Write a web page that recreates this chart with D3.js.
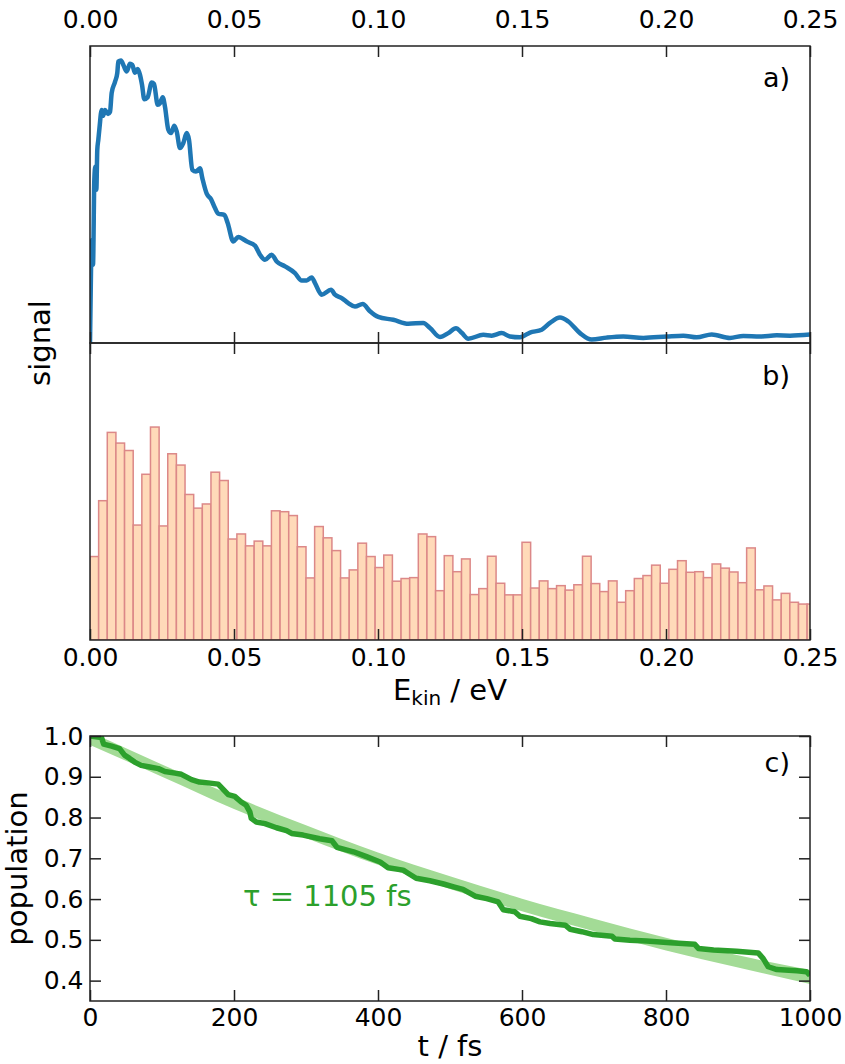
<!DOCTYPE html>
<html>
<head>
<meta charset="utf-8">
<script src="https://cdn.jsdelivr.net/npm/d3@7"></script>
<style>
    body { margin: 0; background: #fff; }
    svg { display: block; font-family: "DejaVu Sans", sans-serif; }
</style>
</head>
<body>
<div id="chart"></div>
<script>
// a) simulated spectrum
const energy = [0, 0.00035, 0.0008, 0.00104, 0.0015, 0.00184, 0.0022, 0.00253, 0.00288, 0.0033,
    0.00406, 0.00451, 0.0052, 0.00625, 0.00694, 0.00753, 0.00868, 0.00948, 0.00983, 0.01076,
    0.0117, 0.01274, 0.01389, 0.01469, 0.01563, 0.01656, 0.01736, 0.01806, 0.01885, 0.02003,
    0.02142, 0.02222, 0.02351, 0.02431, 0.02524, 0.02604, 0.02719, 0.02813, 0.02927, 0.0301,
    0.03125, 0.0324, 0.03358, 0.03438, 0.03552, 0.0368, 0.03819, 0.039, 0.04052, 0.04201,
    0.0434, 0.04455, 0.04663, 0.0478, 0.04976, 0.05149, 0.05323, 0.05441, 0.05729, 0.05903,
    0.06076, 0.06309, 0.06483, 0.06771, 0.07118, 0.07351, 0.07524, 0.07698, 0.07813, 0.08045,
    0.08368, 0.08507, 0.0874, 0.08969, 0.09201, 0.09469, 0.09722, 0.1001, 0.10531, 0.11052,
    0.11573, 0.11806, 0.12153, 0.12441, 0.12708, 0.12906, 0.13135, 0.13656, 0.13948, 0.14295,
    0.14583, 0.14931, 0.15278, 0.15684, 0.15972, 0.16319, 0.16608, 0.17014, 0.1742, 0.17941,
    0.18517, 0.19212, 0.20024, 0.20601, 0.21066, 0.21587, 0.22222, 0.22684, 0.23264, 0.23844,
    0.24306, 0.25];
const signal = [0, 0.259, 0.365, 0.277, 0.577, 0.623, 0.542, 0.683, 0.718, 0.761,
    0.824, 0.803, 0.824, 0.810, 0.817, 0.884, 0.923, 0.955, 0.995, 0.999,
    0.980, 0.960, 0.987, 0.983, 0.955, 0.969, 0.948, 0.913, 0.862, 0.869,
    0.921, 0.916, 0.842, 0.848, 0.869, 0.835, 0.754, 0.742, 0.768, 0.748,
    0.689, 0.707, 0.742, 0.718, 0.612, 0.606, 0.618, 0.583, 0.528, 0.509,
    0.477, 0.457, 0.453, 0.424, 0.359, 0.375, 0.367, 0.359, 0.344, 0.312,
    0.294, 0.312, 0.288, 0.271, 0.247, 0.221, 0.221, 0.232, 0.212, 0.171,
    0.188, 0.171, 0.159, 0.141, 0.129, 0.138, 0.112, 0.092, 0.082, 0.068,
    0.071, 0.053, 0.021, 0.035, 0.052, 0.036, 0.015, 0.029, 0.026, 0.035,
    0.023, 0.020, 0.037, 0.047, 0.071, 0.090, 0.076, 0.035, 0.012, 0.019,
    0.023, 0.018, 0.023, 0.026, 0.020, 0.030, 0.018, 0.025, 0.023, 0.027,
    0.026, 0.030];

// b) histogram of kinetic energies, bins of 0.003 eV
const binWidth = 0.003;
const counts = [28.1, 46.9, 69.9, 66.3, 63.8, 38.7, 55.8, 71.7, 38.4, 62.7,
    58.9, 49.0, 44.4, 45.8, 56.5, 53.7, 34.0, 35.7, 31.7, 33.3,
    31.7, 43.5, 43.2, 41.9, 31.4, 20.9, 38.2, 34.4, 30.1, 20.9,
    23.6, 32.6, 28.1, 24.4, 28.6, 19.8, 20.7, 21.0, 35.7, 34.8,
    16.6, 28.4, 23.0, 27.3, 15.3, 17.3, 28.2, 19.1, 15.2, 15.2,
    32.9, 17.5, 19.9, 17.3, 18.3, 16.8, 18.6, 28.2, 19.0, 16.3,
    19.9, 12.7, 16.6, 20.7, 21.7, 25.2, 19.1, 23.8, 26.7, 22.8,
    23.0, 21.0, 25.6, 24.2, 22.9, 19.3, 31.0, 16.9, 18.2, 13.5,
    15.7, 12.7, 12.1, 12.1];

// c) population and fitted decay band
const popTime = [0, 16, 19, 30, 41, 48, 55, 62, 71, 83, 95, 104, 118, 127, 141, 152, 164, 178, 185, 192,
    201, 210, 217, 222, 224, 231, 243, 259, 273, 280, 296, 319, 336, 343, 366, 384, 403, 414, 435, 444,
    453, 472, 491, 505, 518, 535, 551, 567, 574, 590, 597, 613, 625, 639, 660, 667, 683, 699, 725, 729,
    750, 773, 806, 840, 845, 866, 898, 928, 935, 942, 954, 982, 995, 1000];
const popValue = [1.0, 0.996, 0.980, 0.975, 0.969, 0.953, 0.945, 0.936, 0.928, 0.924,
    0.920, 0.913, 0.909, 0.906, 0.893, 0.887, 0.885, 0.882, 0.869, 0.856,
    0.852, 0.838, 0.830, 0.814, 0.798, 0.789, 0.785, 0.775, 0.768, 0.761,
    0.757, 0.748, 0.743, 0.727, 0.716, 0.704, 0.691, 0.677, 0.671, 0.661,
    0.651, 0.645, 0.637, 0.630, 0.624, 0.607, 0.601, 0.593, 0.574, 0.569,
    0.558, 0.552, 0.544, 0.540, 0.536, 0.526, 0.520, 0.513, 0.509, 0.502,
    0.499, 0.497, 0.493, 0.489, 0.479, 0.475, 0.472, 0.468, 0.454, 0.434,
    0.427, 0.424, 0.422, 0.413];
const fitTime = [0, 100, 200, 300, 400, 500, 600, 700, 800, 900, 1000];
const fitLow = [0.978, 0.900, 0.821, 0.750, 0.684, 0.625, 0.570, 0.521, 0.474, 0.432, 0.392];
const fitHigh = [1.010, 0.930, 0.852, 0.781, 0.714, 0.656, 0.601, 0.552, 0.505, 0.462, 0.426];

const energyTicks = [0, 0.05, 0.10, 0.15, 0.20, 0.25];
const timeTicks = [0, 200, 400, 600, 800, 1000];
const popTicks = [0.4, 0.5, 0.6, 0.7, 0.8, 0.9, 1.0];

const width = 845;
const height = 1064;
const left = 90, right = 810;
const topA = 46, midAB = 343, bottomB = 640;
const topC = 736, bottomC = 1001;
const tickLen = 11;
const ink = "#222";

const svg = d3.select("#chart")
    .append("svg")
    .attr("width", width)
    .attr("height", height);

const x = d3.scaleLinear().domain([0, 0.25]).range([left, right]);
const ySignal = d3.scaleLinear().domain([0, 1.05]).range([midAB, topA]);
const yCount = d3.scaleLinear().domain([0, 100]).range([bottomB, midAB]);
const xTime = d3.scaleLinear().domain([0, 1000]).range([left, right]);
const yPop = d3.scaleLinear().domain([0.35, 1.0]).range([bottomC, topC]);

const defs = svg.append("defs");
function addClip(id, y0, y1) {
    defs.append("clipPath").attr("id", id)
        .append("rect")
        .attr("x", left).attr("y", y0)
        .attr("width", right - left).attr("height", y1 - y0);
}
addClip("clip-a", topA, midAB);
addClip("clip-b", midAB, bottomB);
addClip("clip-c", topC, bottomC);

// panel a
svg.append("path")
    .datum(d3.zip(energy, signal))
    .attr("clip-path", "url(#clip-a)")
    .attr("fill", "none")
    .attr("stroke", "#1f77b4")
    .attr("stroke-width", 4.5)
    .attr("stroke-linejoin", "round")
    .attr("d", d3.line().curve(d3.curveMonotoneX).x(d => x(d[0])).y(d => ySignal(d[1])));

// panel b
svg.append("g")
    .attr("clip-path", "url(#clip-b)")
    .selectAll("rect")
    .data(counts)
    .join("rect")
    .attr("x", (d, i) => x(i * binWidth))
    .attr("width", x(binWidth) - x(0))
    .attr("y", d => yCount(d))
    .attr("height", d => yCount(0) - yCount(d))
    .attr("fill", "#ffdab9")
    .attr("stroke", "#dc8888")
    .attr("stroke-width", 1.5);

// panel c
const clipC = svg.append("g").attr("clip-path", "url(#clip-c)");
clipC.append("path")
    .datum(fitTime.map((t, i) => [t, fitLow[i], fitHigh[i]]))
    .attr("fill", "#a3db96")
    .attr("d", d3.area()
        .curve(d3.curveMonotoneX)
        .x(d => xTime(d[0]))
        .y0(d => yPop(d[1]))
        .y1(d => yPop(d[2])));
clipC.append("path")
    .datum(d3.zip(popTime, popValue))
    .attr("fill", "none")
    .attr("stroke", "#2ca02c")
    .attr("stroke-width", 5.5)
    .attr("stroke-linejoin", "round")
    .attr("d", d3.line().x(d => xTime(d[0])).y(d => yPop(d[1])));

function drawAxis(gen, tx, ty) {
    const g = svg.append("g")
        .attr("transform", `translate(${tx},${ty})`)
        .call(gen.tickSizeInner(-tickLen).tickSizeOuter(0));
    g.attr("font-family", null).attr("font-size", 25);
    g.select(".domain").remove();
    g.selectAll(".tick line").attr("stroke", ink).attr("stroke-width", 1.5);
    g.selectAll(".tick text").attr("fill", "#000");
    return g;
}

const fmtE = d3.format(".2f");
drawAxis(d3.axisTop(x).tickValues(energyTicks).tickFormat(fmtE).tickPadding(18), 0, topA);
drawAxis(d3.axisBottom(x).tickValues(energyTicks).tickFormat(""), 0, midAB);
drawAxis(d3.axisTop(x).tickValues(energyTicks).tickFormat(""), 0, midAB);
drawAxis(d3.axisBottom(x).tickValues(energyTicks).tickFormat(fmtE).tickPadding(8), 0, bottomB);

drawAxis(d3.axisBottom(xTime).tickValues(timeTicks).tickFormat(d3.format("d")).tickPadding(7.5), 0, bottomC);
drawAxis(d3.axisTop(xTime).tickValues(timeTicks).tickFormat(""), 0, topC);
drawAxis(d3.axisLeft(yPop).tickValues(popTicks).tickFormat(d3.format(".1f")).tickPadding(6.5), left, 0);
drawAxis(d3.axisRight(yPop).tickValues(popTicks).tickFormat(""), right, 0);

// frames
[[topA, midAB], [midAB, bottomB], [topC, bottomC]].forEach(([y0, y1]) => {
    svg.append("rect")
        .attr("x", left).attr("y", y0)
        .attr("width", right - left).attr("height", y1 - y0)
        .attr("fill", "none")
        .attr("stroke", ink)
        .attr("stroke-width", 1.5);
});

// labels
svg.append("text")
    .attr("transform", `translate(50,${midAB}) rotate(-90)`)
    .attr("text-anchor", "middle")
    .attr("font-size", 29)
    .text("signal");

svg.append("text")
    .attr("transform", `translate(27,${(topC + bottomC) / 2}) rotate(-90)`)
    .attr("text-anchor", "middle")
    .attr("font-size", 29)
    .text("population");

const ekin = svg.append("text")
    .attr("x", (left + right) / 2)
    .attr("y", 700)
    .attr("text-anchor", "middle")
    .attr("font-size", 29);
ekin.append("tspan").text("E");
ekin.append("tspan").attr("font-size", 20).attr("dy", 5).text("kin");
ekin.append("tspan").attr("dy", -5).text(" / eV");

svg.append("text")
    .attr("x", (left + right) / 2)
    .attr("y", 1056)
    .attr("text-anchor", "middle")
    .attr("font-size", 29)
    .text("t / fs");

svg.append("text")
    .attr("x", 243)
    .attr("y", 906)
    .attr("font-size", 29)
    .attr("fill", "#2ca02c")
    .text("τ = 1105 fs");

[["a)", 87], ["b)", 385], ["c)", 772]].forEach(([s, y]) => {
    svg.append("text")
        .attr("x", 790)
        .attr("y", y)
        .attr("text-anchor", "end")
        .attr("font-size", 27)
        .text(s);
});
</script>
</body>
</html>
